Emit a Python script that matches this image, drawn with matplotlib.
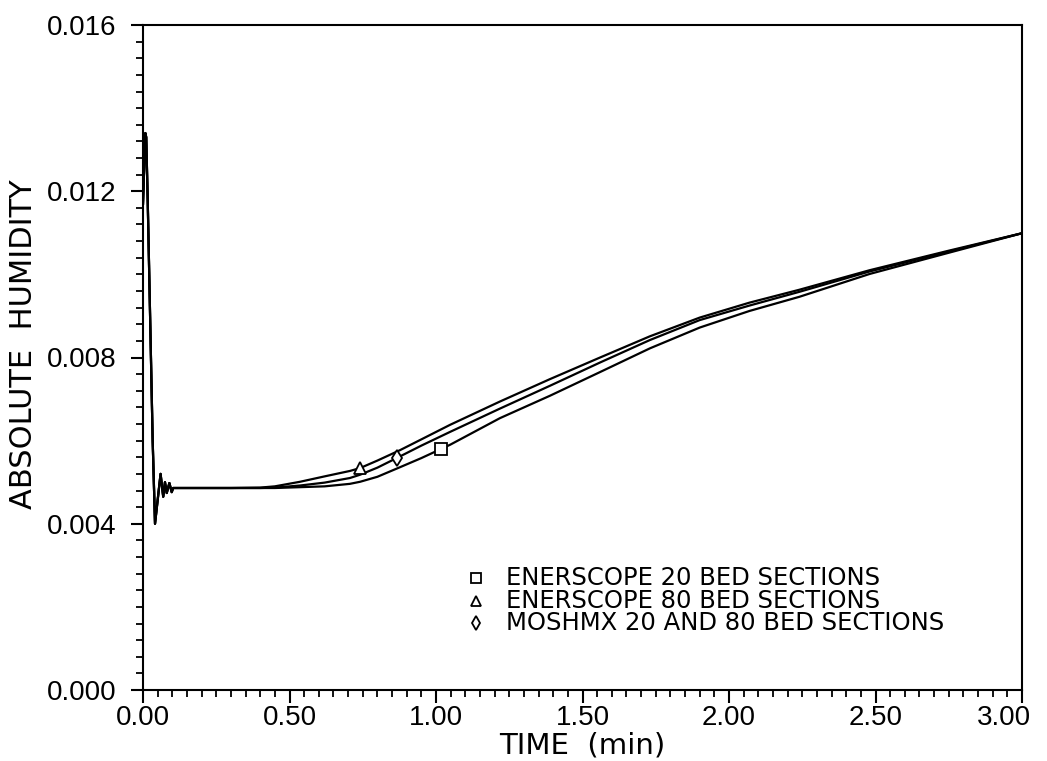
import numpy as np
import matplotlib
matplotlib.use("Agg")
import matplotlib.pyplot as plt
import matplotlib.transforms as mtransforms
from matplotlib.ticker import MultipleLocator, FormatStrFormatter

# Start-up transient, common to all runs
t_start = [0.0, 0.008, 0.011, 0.016, 0.033, 0.041, 0.060, 0.069, 0.075, 0.081, 0.090, 0.098, 0.103]
h_start = [0.0117, 0.0134, 0.0133, 0.0118, 0.0060, 0.0040, 0.0052, 0.00465, 0.0050, 0.00474, 0.00498, 0.00476, 0.00486]

# Main response after the transient (time in min)
t_run = [0.15, 0.30, 0.40, 0.45, 0.536, 0.62, 0.706, 0.741, 0.80, 0.877, 0.95, 1.048,
         1.218, 1.389, 1.56, 1.73, 1.90, 2.07, 2.24, 2.48, 2.75, 3.0]
h_ener20 = [0.00486, 0.00486, 0.00486, 0.00486, 0.00488, 0.00490, 0.00496, 0.00501, 0.00513,
            0.00536, 0.00558, 0.00590, 0.00654, 0.00708, 0.00765, 0.00822, 0.00872, 0.00912,
            0.00946, 0.01001, 0.01052, 0.01099]
h_ener80 = [0.00486, 0.00486, 0.00487, 0.00490, 0.00501, 0.00514, 0.00527, 0.00534, 0.00552,
            0.00577, 0.00603, 0.00638, 0.00694, 0.00748, 0.00800, 0.00851, 0.00896, 0.00932,
            0.00963, 0.01010, 0.01057, 0.01099]
h_moshmx = [0.00486, 0.00486, 0.00486, 0.00487, 0.00492, 0.00499, 0.00510, 0.00518, 0.00535,
            0.00562, 0.00588, 0.00621, 0.00677, 0.00732, 0.00788, 0.00842, 0.00890, 0.00925,
            0.00958, 0.01007, 0.01055, 0.01099]

# Symbol placement along each curve (time in min)
t_mark_ener20 = 1.017
t_mark_ener80 = 0.741
t_mark_moshmx = 0.866

labels = ["ENERSCOPE 20 BED SECTIONS", "ENERSCOPE 80 BED SECTIONS", "MOSHMX 20 AND 80 BED SECTIONS"]

x_ticks = [0.0, 0.5, 1.0, 1.5, 2.0, 2.5, 3.0]
y_ticks = [0.000, 0.004, 0.008, 0.012, 0.016]

num_font = "Liberation Sans"
txt_font = "DejaVu Sans"

fig = plt.figure(figsize=(10.47, 7.61), dpi=100)
ax = fig.add_axes([143 / 1047, 1 - 690 / 761, 879 / 1047, 665 / 761])

series = [(h_ener20, t_mark_ener20, "s"), (h_ener80, t_mark_ener80, "^"), (h_moshmx, t_mark_moshmx, "d")]
for h, tm, mk in series:
    t_all = np.concatenate([t_start, t_run])
    h_all = np.concatenate([h_start, h])
    ax.plot(t_all, h_all, color="black", lw=1.6, solid_joinstyle="round")
    ax.plot([tm], [np.interp(tm, t_run, h)], marker=mk, ls="none", ms=8,
            mfc="white", mec="black", mew=1.3, zorder=5)

ax.set_xlim(0, 3.0)
ax.set_ylim(0, 0.016)
ax.set_xticks(x_ticks)
ax.set_yticks(y_ticks)
ax.xaxis.set_minor_locator(MultipleLocator(0.05))
ax.yaxis.set_minor_locator(MultipleLocator(0.0004))
ax.xaxis.set_major_formatter(FormatStrFormatter("%.2f"))
ax.yaxis.set_major_formatter(FormatStrFormatter("%.3f"))

ax.tick_params(which="major", direction="out", length=9, width=1.5, top=False, right=False)
ax.tick_params(which="minor", direction="out", length=5, width=1.3, top=False, right=False)
ax.tick_params(axis="y", which="major", pad=10)
ax.tick_params(axis="x", which="major", pad=2)
for lab in ax.get_xticklabels() + ax.get_yticklabels():
    lab.set_fontfamily(num_font)
    lab.set_fontsize(20)
for sp in ax.spines.values():
    sp.set_linewidth(1.5)

# keep the last time label inside the figure
last = ax.get_xticklabels()[-1]
last.set_transform(last.get_transform() + mtransforms.ScaledTranslation(-18 / 100, 0, fig.dpi_scale_trans))

ax.set_xlabel("TIME  (min)", fontsize=21, fontfamily=txt_font, va="top")
ax.xaxis.set_label_coords(0.5, -0.062)
ax.set_ylabel("ABSOLUTE  HUMIDITY", fontsize=22, fontfamily=txt_font)
ax.yaxis.set_label_coords(-0.119, 0.52)

# Key
key_rows = [0.168, 0.134, 0.101]
for (h, tm, mk), lab, yr in zip(series, labels, key_rows):
    ax.plot([0.379], [yr], transform=ax.transAxes, marker=mk, ls="none", ms=7,
            mfc="white", mec="black", mew=1.3, clip_on=False)
    ax.text(0.413, yr, lab, transform=ax.transAxes, fontsize=17.5, fontfamily=txt_font,
            va="center", ha="left")

fig.savefig("out.png", dpi=100)
